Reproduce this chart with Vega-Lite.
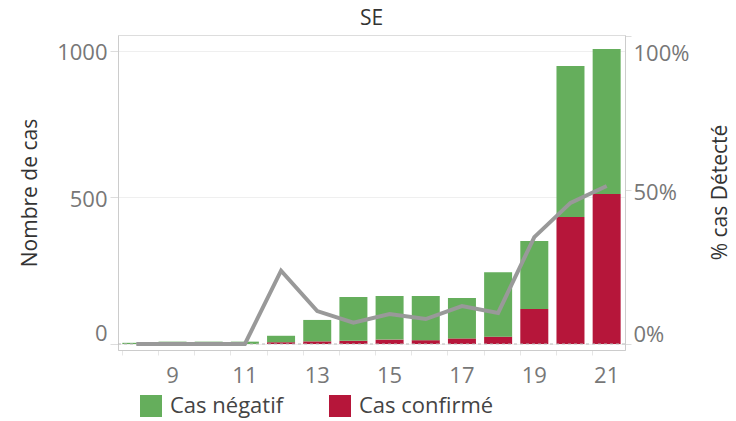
{
  "$schema": "https://vega.github.io/schema/vega-lite/v6.json",
  "autosize": "none",
  "width": 507,
  "height": 315,
  "padding": {"left": 118, "top": 35, "right": 111, "bottom": 71},
  "title": {"text": "SE", "fontSize": 21, "font": "Open Sans", "fontWeight": "normal", "color": "#333", "offset": 6},
  "config": {
    "font": "Open Sans",
    "view": {"stroke": "#ddd"},
    "axis": {"labelFont": "Open Sans", "titleFont": "Open Sans"},
    "legend": {"labelFont": "Open Sans"}
  },
  "datasets": {
    "bars": [
      {"week": 8, "type": "Cas confirmé", "count": 0}, {"week": 8, "type": "Cas négatif", "count": 4},
      {"week": 9, "type": "Cas confirmé", "count": 0}, {"week": 9, "type": "Cas négatif", "count": 8},
      {"week": 10, "type": "Cas confirmé", "count": 0}, {"week": 10, "type": "Cas négatif", "count": 8},
      {"week": 11, "type": "Cas confirmé", "count": 0}, {"week": 11, "type": "Cas négatif", "count": 8},
      {"week": 12, "type": "Cas confirmé", "count": 6}, {"week": 12, "type": "Cas négatif", "count": 22},
      {"week": 13, "type": "Cas confirmé", "count": 9}, {"week": 13, "type": "Cas négatif", "count": 73},
      {"week": 14, "type": "Cas confirmé", "count": 11}, {"week": 14, "type": "Cas négatif", "count": 149},
      {"week": 15, "type": "Cas confirmé", "count": 15}, {"week": 15, "type": "Cas négatif", "count": 149},
      {"week": 16, "type": "Cas confirmé", "count": 13}, {"week": 16, "type": "Cas négatif", "count": 151},
      {"week": 17, "type": "Cas confirmé", "count": 19}, {"week": 17, "type": "Cas négatif", "count": 138},
      {"week": 18, "type": "Cas confirmé", "count": 25}, {"week": 18, "type": "Cas négatif", "count": 220},
      {"week": 19, "type": "Cas confirmé", "count": 119}, {"week": 19, "type": "Cas négatif", "count": 232},
      {"week": 20, "type": "Cas confirmé", "count": 433}, {"week": 20, "type": "Cas négatif", "count": 515},
      {"week": 21, "type": "Cas confirmé", "count": 511}, {"week": 21, "type": "Cas négatif", "count": 495}
    ],
    "pct": [
      {"week": 8, "pct": 0}, {"week": 9, "pct": 0}, {"week": 10, "pct": 0}, {"week": 11, "pct": 0},
      {"week": 12, "pct": 0.238}, {"week": 13, "pct": 0.107}, {"week": 14, "pct": 0.069},
      {"week": 15, "pct": 0.097}, {"week": 16, "pct": 0.081}, {"week": 17, "pct": 0.123},
      {"week": 18, "pct": 0.101}, {"week": 19, "pct": 0.347}, {"week": 20, "pct": 0.458},
      {"week": 21, "pct": 0.513}
    ],
    "zero": [{"zero": 0}]
  },
  "layer": [
    {
      "layer": [
        {
          "data": {"name": "bars"},
          "mark": {"type": "bar"},
          "encoding": {
            "x": {
              "field": "week", "type": "ordinal",
              "scale": {"paddingInner": 0.226, "paddingOuter": 0.12},
              "axis": {
                "title": null, "labelAngle": 0, "labelFontSize": 22, "labelColor": "#777",
                "domainColor": "#ccc", "tickColor": "#e6e6e6", "tickSize": 5, "bandPosition": 0,
                "labelPadding": 10, "grid": false,
                "labelExpr": "datum.value % 2 == 1 && datum.value >= 9 ? datum.label : ''"
              }
            },
            "y": {
              "field": "count", "type": "quantitative", "stack": "zero",
              "scale": {"domain": [-20.5, 1053.5], "nice": false, "zero": false},
              "axis": {
                "orient": "left", "values": [0, 500, 1000], "format": "d", "title": "Nombre de cas",
                "titleFontSize": 21, "titleFontWeight": "normal", "titleColor": "#333", "titlePadding": 16,
                "labelFontSize": 22, "labelColor": "#777", "tickColor": "#ddd", "tickSize": 8, "labelPadding": 3,
                "domainColor": "#ccc", "gridColor": "#efefef",
                "labelOffset": {"condition": {"test": "datum.value == 0", "value": -10}, "value": 2}
              }
            },
            "color": {
              "field": "type", "type": "nominal",
              "scale": {"domain": ["Cas négatif", "Cas confirmé"], "range": ["#65AE5C", "#B6163A"]},
              "legend": {
                "orient": "none", "legendX": 22, "legendY": 360, "direction": "horizontal", "title": null,
                "symbolType": "square", "symbolSize": 484, "symbolStrokeWidth": 0, "symbolOpacity": 1,
                "labelFontSize": 22, "labelColor": "#444", "labelOffset": 8, "columnPadding": 45
              }
            },
            "order": {"field": "type", "sort": "ascending"}
          }
        },
        {
          "data": {"name": "zero"},
          "mark": {"type": "rule", "color": "#bbb", "strokeDash": [3, 3], "strokeWidth": 1},
          "encoding": {"y": {"field": "zero", "type": "quantitative"}}
        }
      ]
    },
    {
      "data": {"name": "pct"},
      "mark": {"type": "line", "color": "#999999", "strokeWidth": 4},
      "encoding": {
        "x": {"field": "week", "type": "ordinal"},
        "y": {
          "field": "pct", "type": "quantitative",
          "scale": {"domain": [-0.0195, 1.003], "nice": false, "zero": false},
          "axis": {
            "orient": "right", "values": [0, 0.5, 1], "format": ".0%", "title": "% cas Détecté",
            "titleAngle": 270, "titleFontSize": 21, "titleFontWeight": "normal", "titleColor": "#333",
            "titleX": 95, "titleY": 157, "titleAlign": "center", "titleBaseline": "middle",
            "labelFontSize": 22, "labelColor": "#777", "tickColor": "#ddd", "tickSize": 6, "labelPadding": 2,
            "domainColor": "#ccc", "grid": false,
            "labelOffset": {"condition": [{"test": "datum.value == 0", "value": -9}, {"test": "datum.value == 1", "value": 18}], "value": 3}
          }
        }
      }
    }
  ],
  "resolve": {"scale": {"y": "independent"}}
}
